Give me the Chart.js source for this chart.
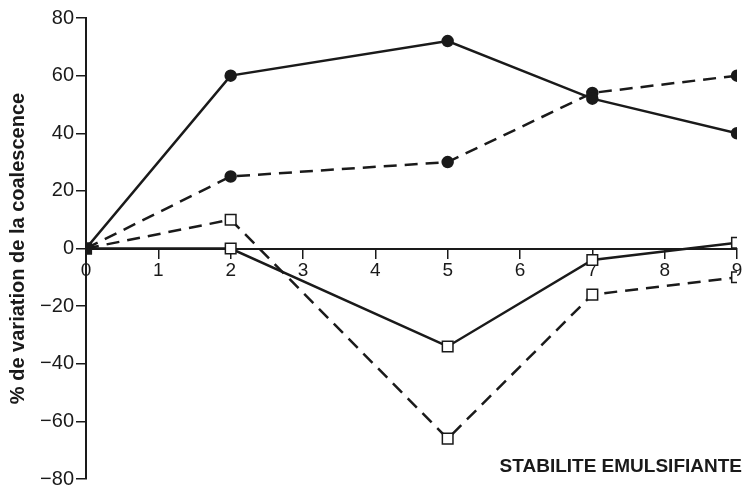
<!DOCTYPE html>
<html>
<head>
<meta charset="utf-8">
<script src="https://cdn.jsdelivr.net/npm/chart.js@4/dist/chart.umd.min.js"></script>
<style>
html,body{margin:0;padding:0;background:#fff;}
#wrap{width:746px;height:493px;position:relative;}
</style>
</head>
<body>
<div id="wrap"><canvas id="c" width="746" height="493"></canvas></div>
<script>
const xValues = [0, 2, 5, 7, 9];
const solidCircles = [0, 60, 72, 52, 40];
const dashedCircles = [0, 25, 30, 54, 60];
const solidSquares = [0, 0, -34, -4, 2];
const dashedSquares = [0, 10, -66, -16, -10];
const xTicks = [0,1,2,3,4,5,6,7,8,9];
const yTicks = [-80,-60,-40,-20,0,20,40,60,80];
const yTitle = '% de variation de la coalescence';
const xTitle = 'STABILITE EMULSIFIANTE';

const ink = '#1a1a1a';
function pts(arr){ return xValues.map((x,i)=>({x:x, y:arr[i]})); }
const circleRadii = xValues.map((x,i)=> i===0 ? 0 : 5);
const squareFill = xValues.map((x,i)=> i===0 ? ink : '#fff');

const titlePlugin = {
  id:'xTitle',
  afterDraw(chart){
    const ctx = chart.ctx;
    ctx.save();
    ctx.font = 'bold 19px "Liberation Sans", Arial, sans-serif';
    ctx.fillStyle = ink;
    ctx.textAlign = 'right';
    ctx.textBaseline = 'middle';
    ctx.fillText(xTitle, 742, 467);
    ctx.restore();
  }
};

new Chart(document.getElementById('c'), {
  type:'line',
  data:{
    datasets:[
      {data:pts(solidCircles), borderColor:ink, borderWidth:2.5, pointStyle:'circle', pointRadius:circleRadii, pointBackgroundColor:ink, pointBorderColor:ink, tension:0},
      {data:pts(dashedCircles), borderColor:ink, borderWidth:2.5, borderDash:[13,8], pointStyle:'circle', pointRadius:circleRadii, pointBackgroundColor:ink, pointBorderColor:ink, tension:0},
      {data:pts(solidSquares), borderColor:ink, borderWidth:2.5, pointStyle:'rect', pointRadius:7.5, pointBackgroundColor:squareFill, pointBorderColor:ink, pointBorderWidth:1.5, tension:0},
      {data:pts(dashedSquares), borderColor:ink, borderWidth:2.5, borderDash:[13,8], pointStyle:'rect', pointRadius:7.5, pointBackgroundColor:squareFill, pointBorderColor:ink, pointBorderWidth:1.5, tension:0}
    ]
  },
  options:{
    responsive:false,
    animation:false,
    layout:{padding:{top:18,bottom:9,right:8,left:0}},
    plugins:{legend:{display:false}, tooltip:{enabled:false}},
    scales:{
      x:{
        type:'linear', min:0, max:9,
        position:{y:0},
        afterBuildTicks(s){ s.ticks = xTicks.map(v=>({value:v})); },
        grid:{drawOnChartArea:false, drawTicks:true, tickLength:9, color:ink, lineWidth:1.5},
        border:{display:true, color:ink, width:2},
        ticks:{color:ink, font:{family:'"Liberation Sans", Arial, sans-serif', size:19}, padding:2, maxRotation:0}
      },
      y:{
        type:'linear', min:-80, max:80,
        afterBuildTicks(s){ s.ticks = yTicks.map(v=>({value:v})); },
        afterFit(s){ s.width = 86; },
        grid:{drawOnChartArea:false, drawTicks:true, tickLength:10, color:ink, lineWidth:1.5},
        border:{display:true, color:ink, width:2},
        ticks:{color:ink, font:{family:'"Liberation Sans", Arial, sans-serif', size:20}, padding:2,
          callback:(v)=> v<0 ? '\u2212'+Math.abs(v) : String(v)},
        title:{display:true, text:yTitle, color:ink, font:{family:'"Liberation Sans", Arial, sans-serif', size:20, weight:'bold'}, padding:{top:6,bottom:0}}
      }
    }
  },
  plugins:[titlePlugin]
});
</script>
</body>
</html>
